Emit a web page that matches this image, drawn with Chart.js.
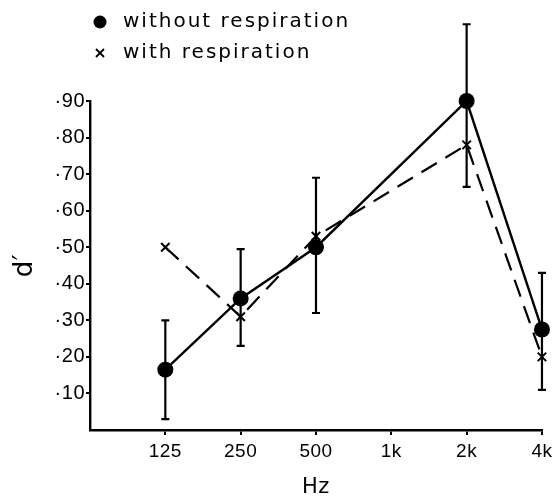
<!DOCTYPE html>
<html>
<head>
<meta charset="utf-8">
<script src="https://cdn.jsdelivr.net/npm/chart.js@4/dist/chart.umd.min.js"></script>
<style>
html,body{margin:0;padding:0;background:#fff;}
#wrap{width:557px;height:500px;position:relative;}
</style>
</head>
<body>
<div id="wrap"><canvas id="c" width="557" height="500"></canvas></div>
<script>
// ---- data ----
const xLabels = ['125', '250', '500', '1k', '2k', '4k'];
const pointCats = ['125', '250', '500', '2k', '4k'];
const withoutResp = [0.165, 0.36, 0.50, 0.90, 0.275];
const withResp = [0.50, 0.31, 0.53, 0.78, 0.20];
const errLow = [0.03, 0.23, 0.32, 0.665, 0.11];
const errHigh = [0.30, 0.495, 0.69, 1.11, 0.43];
const yTickLabels = ['·10', '·20', '·30', '·40', '·50', '·60', '·70', '·80', '·90'];
const seriesLabels = ['without respiration', 'with respiration'];

const FONT = "'DejaVu Sans', sans-serif";
const TICKFONT = "'Liberation Sans', Arial, sans-serif";
const toPts = arr => arr.map((v, i) => ({ x: xLabels.indexOf(pointCats[i]), y: v }));

const spacing = {
  id: 'spacing',
  beforeDraw(chart) { chart.ctx.letterSpacing = '0.5px'; }
};

const errorBars = {
  id: 'errorBars',
  beforeDatasetsDraw(chart) {
    const ctx = chart.ctx, xs = chart.scales.x, ys = chart.scales.y;
    ctx.save();
    ctx.strokeStyle = '#000';
    ctx.lineWidth = 2.2;
    pointCats.forEach((c, i) => {
      const px = xs.getPixelForValue(xLabels.indexOf(c));
      const top = ys.getPixelForValue(errHigh[i]);
      const bot = ys.getPixelForValue(errLow[i]);
      ctx.beginPath();
      ctx.moveTo(px, top); ctx.lineTo(px, bot);
      ctx.moveTo(px - 4, top); ctx.lineTo(px + 4, top);
      ctx.moveTo(px - 4, bot); ctx.lineTo(px + 4, bot);
      ctx.stroke();
    });
    ctx.restore();
  }
};

const customLegend = {
  id: 'customLegend',
  afterDraw(chart) {
    const ctx = chart.ctx;
    ctx.save();
    ctx.fillStyle = '#000';
    ctx.strokeStyle = '#000';
    ctx.font = '20px ' + FONT;
    ctx.letterSpacing = '2px';
    ctx.textBaseline = 'middle';
    ctx.textAlign = 'left';
    ctx.beginPath();
    ctx.arc(100, 22, 6.5, 0, Math.PI * 2);
    ctx.fill();
    ctx.fillText(seriesLabels[0], 123, 22);
    ctx.lineWidth = 1.8;
    ctx.beginPath();
    ctx.moveTo(96, 49); ctx.lineTo(104, 57);
    ctx.moveTo(104, 49); ctx.lineTo(96, 57);
    ctx.stroke();
    ctx.fillText(seriesLabels[1], 123, 53);
    ctx.restore();
    ctx.letterSpacing = '0.5px';
  }
};

new Chart(document.getElementById('c'), {
  type: 'line',
  data: {
    datasets: [
      {
        label: seriesLabels[0],
        data: toPts(withoutResp),
        borderColor: '#000',
        backgroundColor: '#000',
        borderWidth: 2.4,
        pointStyle: 'circle',
        pointRadius: 8,
        pointBorderWidth: 0,
        pointBackgroundColor: '#000',
        tension: 0,
        clip: false
      },
      {
        label: seriesLabels[1],
        data: toPts(withResp),
        borderColor: '#000',
        backgroundColor: '#000',
        borderWidth: 2.2,
        borderDash: [18, 10],
        pointStyle: 'crossRot',
        pointRadius: 6,
        pointBorderWidth: 2,
        pointBorderColor: '#000',
        tension: 0,
        clip: false
      }
    ]
  },
  options: {
    responsive: false,
    animation: false,
    layout: { padding: { top: 101, left: 0, right: 14, bottom: 0 } },
    plugins: { legend: { display: false }, tooltip: { enabled: false } },
    scales: {
      x: {
        type: 'linear',
        min: -1,
        max: 5,
        afterBuildTicks(s) { s.ticks = xLabels.map((l, i) => ({ value: i })); },
        afterFit(s) { s.height = 70; },
        grid: { display: true, drawOnChartArea: false, drawTicks: true, tickLength: 5, color: '#000', lineWidth: 2 },
        border: { display: true, color: '#000', width: 2.4 },
        ticks: {
          color: '#000',
          font: { family: TICKFONT, size: 19 },
          padding: 5,
          maxRotation: 0,
          autoSkip: false,
          callback: (v) => xLabels[v] ?? ''
        },
        title: {
          display: true,
          text: 'Hz',
          color: '#000',
          font: { family: FONT, size: 21 },
          padding: { top: 10, bottom: 0 }
        }
      },
      y: {
        type: 'linear',
        min: 0,
        max: 0.9,
        afterBuildTicks(s) { s.ticks = yTickLabels.map((l, i) => ({ value: (i + 1) / 10 })); },
        afterFit(s) { s.width = 90; },
        grid: { display: true, drawOnChartArea: false, drawTicks: true, tickLength: 4, color: '#000', lineWidth: 2 },
        border: { display: true, color: '#000', width: 2.4 },
        ticks: {
          color: '#000',
          font: { family: TICKFONT, size: 20 },
          padding: 1,
          autoSkip: false,
          callback: (v) => yTickLabels[Math.round(v * 10) - 1] ?? ''
        },
        title: {
          display: true,
          text: 'd′',
          color: '#000',
          font: { family: FONT, size: 26 },
          padding: { top: 10, bottom: 0 }
        }
      }
    }
  },
  plugins: [spacing, errorBars, customLegend]
});
</script>
</body>
</html>
